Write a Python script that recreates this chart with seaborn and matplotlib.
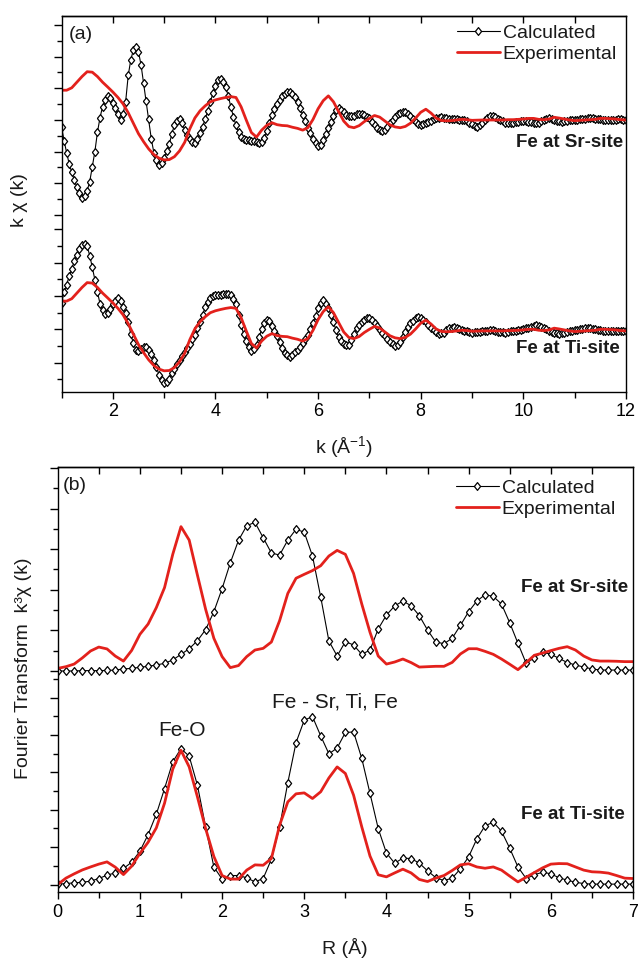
import numpy as np
import matplotlib
matplotlib.use("Agg")
import matplotlib.pyplot as plt
from matplotlib.lines import Line2D
from matplotlib.ticker import FixedLocator
import seaborn as sns

# ---------------- data : panel (a)  k*chi(k) ----------------
k_calc = np.round(np.arange(1.0, 12.0001, 0.05), 2)
k_exp = np.round(np.arange(1.0, 12.0001, 0.1), 2)

chi_exp = [
    1.85, 1.85, 2.00, 2.35, 2.70, 3.00, 2.97, 2.70, 2.35, 2.05,
    1.74, 1.40, 1.00, 0.45, -0.20, -0.85, -1.35, -1.80, -2.15, -2.37,
    -2.48, -2.46, -2.28, -1.92, -1.39, -0.55, 0.13, 0.57, 0.88, 1.13,
    1.25, 1.33, 1.40, 1.45, 1.40, 0.82, 0.00, -0.78, -1.06, -0.63,
    -0.33, -0.17, -0.29, -0.34, -0.36, -0.45, -0.52, -0.63, -0.48, 0.03,
    0.70, 1.20, 1.50, 1.13, 0.52, -0.07, -0.41, -0.48, -0.35, -0.10,
    0.10, 0.28, 0.18, -0.06, -0.30, -0.43, -0.48, -0.40, -0.20, 0.12,
    0.48, 0.67, 0.43, 0.12, -0.03, -0.05, -0.04, 0.00, 0.04, 0.02,
    -0.02, -0.01, 0.00, 0.00, 0.00, 0.00, 0.00, 0.02, 0.02, 0.04,
    0.06, 0.10, 0.10, 0.04, 0.02, 0.06, 0.17, 0.12, 0.06, 0.00,
    -0.04, -0.02, 0.00, 0.02, 0.04, 0.10, 0.10, 0.08, 0.06, 0.02,
    0.00]

chi_calc_sr = [
    -0.41, -1.28, -2.03, -2.73, -3.25, -3.73, -4.18, -4.51, -4.84, -4.70,
    -4.39, -3.83, -2.92, -1.97, -0.77, 0.14, 0.83, 1.22, 1.47, 1.35,
    1.08, 0.75, 0.35, -0.02, 0.37, 1.14, 2.77, 3.73, 4.35, 4.51,
    4.24, 3.42, 2.28, 1.18, 0.04, -1.18, -2.03, -2.51, -2.82, -2.65,
    -2.38, -1.93, -1.51, -0.87, -0.31, -0.06, 0.08, -0.21, -0.60, -0.93,
    -1.20, -1.37, -1.41, -1.18, -0.83, -0.41, 0.06, 0.56, 1.10, 1.66,
    2.09, 2.46, 2.53, 2.34, 2.03, 1.49, 0.81, 0.21, -0.33, -0.77,
    -1.04, -1.16, -1.22, -1.24, -1.28, -1.30, -1.37, -1.45, -1.35, -1.10,
    -0.66, -0.19, 0.29, 0.68, 0.97, 1.24, 1.49, 1.61, 1.72, 1.76,
    1.61, 1.43, 1.10, 0.72, 0.33, -0.08, -0.48, -0.81, -1.16, -1.41,
    -1.60, -1.57, -1.22, -0.89, -0.52, -0.12, 0.27, 0.60, 0.77, 0.64,
    0.48, 0.33, 0.25, 0.25, 0.27, 0.35, 0.39, 0.39, 0.31, 0.21,
    0.10, -0.10, -0.31, -0.48, -0.62, -0.66, -0.64, -0.43, -0.21, 0.00,
    0.19, 0.35, 0.46, 0.52, 0.52, 0.37, 0.25, 0.06, -0.10, -0.23,
    -0.31, -0.27, -0.21, -0.12, -0.04, 0.04, 0.10, 0.14, 0.17, 0.12,
    0.10, 0.06, 0.06, 0.08, 0.08, 0.02, 0.00, 0.00, -0.06, -0.17,
    -0.27, -0.37, -0.46, -0.33, -0.19, -0.02, 0.12, 0.23, 0.25, 0.17,
    0.08, 0.00, -0.08, -0.17, -0.21, -0.21, -0.19, -0.14, -0.10, -0.06,
    -0.04, -0.06, -0.10, -0.14, -0.19, -0.21, -0.19, -0.08, 0.00, 0.06,
    0.10, 0.06, 0.00, -0.04, -0.08, -0.10, -0.08, -0.04, -0.02, 0.00,
    0.00, 0.02, 0.04, 0.06, 0.08, 0.10, 0.10, 0.10, 0.08, 0.06,
    0.04, 0.02, 0.00, -0.02, -0.02, 0.00, 0.02, 0.04, 0.04, 0.02,
    0.00]

chi_calc_ti = [
    1.72, 2.40, 2.88, 3.40, 3.87, 4.33, 4.72, 5.09, 5.36, 5.38,
    5.26, 4.68, 3.95, 3.17, 2.42, 1.70, 1.30, 1.04, 1.14, 1.37,
    1.68, 1.86, 2.03, 1.84, 1.51, 1.14, 0.54, -0.19, -0.77, -1.16,
    -1.22, -1.10, -0.99, -0.97, -1.16, -1.45, -1.80, -2.22, -2.75, -3.04,
    -3.25, -3.19, -2.96, -2.63, -2.36, -2.05, -1.78, -1.53, -1.30, -1.06,
    -0.79, -0.50, -0.23, 0.17, 0.58, 1.01, 1.47, 1.80, 2.05, 2.19,
    2.26, 2.26, 2.24, 2.30, 2.32, 2.32, 2.22, 2.01, 1.66, 0.99,
    0.37, -0.21, -0.64, -0.97, -1.22, -1.14, -0.85, -0.39, 0.10, 0.48,
    0.70, 0.60, 0.33, 0.00, -0.31, -0.72, -1.08, -1.35, -1.51, -1.59,
    -1.47, -1.33, -1.18, -0.97, -0.77, -0.52, -0.27, 0.10, 0.50, 0.91,
    1.43, 1.76, 1.90, 1.70, 1.41, 1.01, 0.54, 0.04, -0.39, -0.62,
    -0.79, -0.87, -0.85, -0.58, -0.19, 0.17, 0.37, 0.58, 0.70, 0.81,
    0.81, 0.70, 0.52, 0.29, 0.08, -0.14, -0.33, -0.50, -0.66, -0.83,
    -0.91, -0.89, -0.68, -0.37, -0.06, 0.25, 0.50, 0.64, 0.79, 0.87,
    0.83, 0.68, 0.54, 0.35, 0.21, 0.06, -0.06, -0.17, -0.14, -0.10,
    0.04, 0.17, 0.21, 0.25, 0.19, 0.10, 0.06, 0.02, -0.02, -0.06,
    -0.10, -0.08, -0.06, -0.04, -0.02, 0.00, 0.02, 0.04, 0.04, 0.00,
    -0.04, -0.06, -0.08, -0.10, -0.06, -0.02, 0.00, 0.02, 0.04, 0.08,
    0.12, 0.17, 0.21, 0.25, 0.31, 0.37, 0.31, 0.25, 0.17, 0.10,
    0.02, -0.04, -0.10, -0.14, -0.17, -0.12, -0.10, -0.06, -0.02, 0.00,
    0.04, 0.08, 0.10, 0.14, 0.17, 0.17, 0.17, 0.14, 0.12, 0.08,
    0.04, 0.02, 0.00, 0.00, 0.00, -0.02, -0.02, 0.00, 0.00, 0.00,
    0.00]

offset_a_sr = 16.1   # vertical shift of the Sr-site spectra
offset_a_ti = 3.0    # vertical shift of the Ti-site spectra

# ---------------- data : panel (b)  |FT| ----------------
r_grid = np.round(np.arange(0.0, 7.0001, 0.1), 2)

ft_calc_sr = [
    0.00, 0.00, 0.00, 0.02, 0.02, 0.02, 0.03, 0.05, 0.11, 0.14,
    0.20, 0.25, 0.32, 0.41, 0.59, 0.89, 1.19, 1.62, 2.21, 3.17,
    4.40, 5.78, 6.99, 7.77, 7.95, 7.13, 6.31, 6.20, 7.00, 7.58,
    7.42, 6.15, 3.96, 1.60, 0.80, 1.57, 1.39, 0.89, 1.12, 2.25,
    2.99, 3.48, 3.74, 3.49, 2.96, 2.19, 1.55, 1.46, 1.75, 2.44,
    3.17, 3.74, 4.08, 3.99, 3.58, 2.58, 1.48, 0.41, 0.71, 1.02,
    0.89, 0.68, 0.45, 0.32, 0.21, 0.11, 0.05, 0.05, 0.05, 0.05,
    0.05]

ft_exp_sr = [
    0.14, 0.23, 0.37, 0.70, 1.07, 1.28, 1.18, 0.80, 0.53, 1.10,
    1.96, 2.51, 3.39, 4.46, 6.24, 7.72, 7.00, 5.13, 3.30, 1.75,
    0.77, 0.18, 0.29, 0.77, 1.12, 1.21, 1.55, 2.69, 4.15, 4.96,
    5.17, 5.37, 5.63, 6.15, 6.45, 6.24, 5.22, 3.58, 2.07, 0.80,
    0.37, 0.48, 0.64, 0.45, 0.21, 0.23, 0.25, 0.25, 0.46, 0.91,
    1.19, 1.19, 1.05, 0.89, 0.64, 0.36, 0.07, 0.45, 0.84, 0.96,
    1.09, 1.21, 1.30, 1.12, 0.80, 0.59, 0.53, 0.53, 0.52, 0.50,
    0.50]

ft_calc_ti = [
    0.02, 0.05, 0.09, 0.12, 0.18, 0.32, 0.50, 0.62, 0.86, 1.19,
    1.78, 2.67, 3.76, 5.13, 6.56, 7.27, 6.86, 5.31, 3.08, 0.94,
    0.29, 0.48, 0.48, 0.36, 0.14, 0.32, 1.35, 3.08, 5.45, 7.59,
    8.79, 8.98, 7.95, 6.99, 7.30, 8.13, 8.16, 6.74, 4.87, 2.99,
    1.68, 1.14, 1.41, 1.39, 1.14, 0.73, 0.37, 0.21, 0.34, 0.84,
    1.48, 2.44, 3.14, 3.33, 2.85, 1.94, 0.94, 0.32, 0.52, 0.66,
    0.57, 0.36, 0.23, 0.12, 0.05, 0.02, 0.02, 0.02, 0.02, 0.02,
    0.02]

ft_exp_ti = [
    0.00, 0.34, 0.57, 0.78, 0.94, 1.09, 1.21, 0.93, 0.53, 0.98,
    1.66, 2.26, 3.03, 4.35, 6.17, 7.18, 6.29, 4.69, 2.99, 1.50,
    0.48, 0.29, 0.29, 0.77, 1.05, 1.03, 1.39, 3.17, 4.42, 4.85,
    4.90, 4.60, 4.96, 5.70, 6.29, 5.94, 4.78, 3.08, 1.52, 0.52,
    0.41, 0.62, 0.82, 0.62, 0.27, 0.16, 0.34, 0.48, 0.75, 1.05,
    1.11, 0.94, 0.87, 0.94, 0.77, 0.45, 0.14, 0.39, 0.64, 0.89,
    1.09, 1.12, 1.11, 0.94, 0.77, 0.68, 0.66, 0.61, 0.48, 0.34,
    0.32]

offset_b_sr = 11.42
offset_b_ti = 0.0

assert len(chi_exp) == len(k_exp)
assert len(chi_calc_sr) == len(k_calc) == len(chi_calc_ti)
assert len(ft_calc_sr) == len(r_grid) == len(ft_exp_sr) == len(ft_calc_ti) == len(ft_exp_ti)

# ---------------- style ----------------
sns.set_style("ticks")
plt.rcParams["font.family"] = ["Liberation Sans", "DejaVu Sans"]
plt.rcParams["mathtext.fontset"] = "custom"
plt.rcParams["mathtext.rm"] = "Liberation Sans"
plt.rcParams["mathtext.it"] = "Liberation Sans:italic"
plt.rcParams["mathtext.bf"] = "Liberation Sans:bold"
plt.rcParams["axes.edgecolor"] = "black"
plt.rcParams["axes.linewidth"] = 1.0
plt.rcParams["xtick.color"] = "black"
plt.rcParams["ytick.color"] = "black"
plt.rcParams["text.color"] = "#1a1a1a"

RED = "#e3211c"
DIAMOND = [(-0.8, 0), (0, 1), (0.8, 0), (0, -1), (-0.8, 0)]
calc_style = dict(color="black", linewidth=0.8, marker=DIAMOND, markersize=5.6,
                  markerfacecolor="white", markeredgecolor="black",
                  markeredgewidth=0.9)
exp_style = dict(color=RED, linewidth=2.0)

W, H = 640, 961
fig = plt.figure(figsize=(W / 100, H / 100), dpi=100)


def px_axes(l, t, r, b):
    return fig.add_axes([l / W, 1 - b / H, (r - l) / W, (b - t) / H])


ax_a = px_axes(61.5, 16, 626, 392)
ax_b = px_axes(57.7, 467, 633, 891.5)

# ---------------- panel (a) ----------------
for chi, off in [(chi_calc_sr, offset_a_sr), (chi_calc_ti, offset_a_ti)]:
    sns.lineplot(x=k_calc, y=np.asarray(chi) + off, ax=ax_a, errorbar=None, **calc_style)
for off in [offset_a_sr, offset_a_ti]:
    sns.lineplot(x=k_exp, y=np.asarray(chi_exp) + off, ax=ax_a, errorbar=None, **exp_style)

ax_a.set_xlim(1, 12)
ax_a.set_ylim(-0.795, 22.56)
ax_a.xaxis.set_major_locator(FixedLocator([2, 4, 6, 8, 10, 12]))
ax_a.xaxis.set_minor_locator(FixedLocator([1, 3, 5, 7, 9, 11]))
ya_major = [22.0 - 0.983 * i for i in range(0, 13, 2)] + [1.035 * j for j in range(1, 10, 2)]
ya_minor = [22.0 - 0.983 * i for i in range(1, 13, 2)] + [1.035 * j for j in range(0, 10, 2)]
ax_a.yaxis.set_major_locator(FixedLocator(ya_major))
ax_a.yaxis.set_minor_locator(FixedLocator(ya_minor))

# ---------------- panel (b) ----------------
for ft, off in [(ft_calc_sr, offset_b_sr), (ft_calc_ti, offset_b_ti)]:
    sns.lineplot(x=r_grid, y=np.asarray(ft) + off, ax=ax_b, errorbar=None, **calc_style)
for ft, off in [(ft_exp_sr, offset_b_sr), (ft_exp_ti, offset_b_ti)]:
    sns.lineplot(x=r_grid, y=np.asarray(ft) + off, ax=ax_b, errorbar=None, **exp_style)

ax_b.set_xlim(0, 7)
ax_b.set_ylim(-0.374, 22.33)
ax_b.xaxis.set_major_locator(FixedLocator(range(0, 8)))
ax_b.xaxis.set_minor_locator(FixedLocator([0.5 + i for i in range(7)]))
yb_major = [float(i) for i in range(0, 12, 2)] + [11.42 + 1.0856 * m for m in range(0, 11, 2)]
yb_minor = [float(i) for i in range(1, 12, 2)] + [11.42 + 1.0856 * m for m in range(1, 11, 2)]
ax_b.yaxis.set_major_locator(FixedLocator(yb_major))
ax_b.yaxis.set_minor_locator(FixedLocator(yb_minor))

# ---------------- common axis styling ----------------
for ax, top_ticks, pad in [(ax_a, list(range(2, 12)), 3.0),
                           (ax_b, [0.5 * i for i in range(1, 14)], 4.0)]:
    ax.set_xlabel("")
    ax.set_ylabel("")
    ax.tick_params(axis="both", which="both", direction="out", top=False, right=False,
                   labelleft=False, width=1.0, labelsize=13, pad=pad, colors="black")
    ax.tick_params(axis="x", which="major", length=5)
    ax.tick_params(axis="x", which="minor", length=4.5)
    ax.tick_params(axis="y", which="major", length=5.5)
    ax.tick_params(axis="y", which="minor", length=3.5)
    for s in ax.spines.values():
        s.set_linewidth(1.0)
        s.set_color("black")
    sec = ax.secondary_xaxis("top")
    sec.xaxis.set_major_locator(FixedLocator(top_ticks))
    sec.tick_params(direction="in", length=5, width=1.0, labeltop=False, colors="black")
    sec.spines["top"].set_linewidth(1.0)

# ---------------- legends ----------------
h_calc = Line2D([], [], **calc_style)
h_exp = Line2D([], [], **exp_style)
for ax, bx, by in [(ax_a, 0.7006, 0.9787), (ax_b, 0.6923, 0.9717)]:
    ax.legend([h_calc, h_exp], ["Calculated", "Experimental"], loc="upper left",
              bbox_to_anchor=(bx, by), frameon=False, fontsize=14, handlelength=2.2,
              handletextpad=0.15, labelspacing=0.18, borderpad=0, borderaxespad=0,
              numpoints=1)

# ---------------- annotations ----------------
bold = dict(fontsize=13.5, fontweight="bold", ha="right", va="center")
ta = ax_a.get_yaxis_transform()
ax_a.text(0.012, 21.4, "(a)", transform=ta, fontsize=14, ha="left", va="center")
ax_a.text(0.995, 14.7, "Fe at Sr-site", transform=ta, **bold)
ax_a.text(0.989, 1.89, "Fe at Ti-site", transform=ta, **bold)

tb = ax_b.get_yaxis_transform()
ax_b.text(0.008, 21.36, "(b)", transform=tb, fontsize=14, ha="left", va="center")
ax_b.text(0.991, 15.86, "Fe at Sr-site", transform=tb, **bold)
ax_b.text(0.986, 3.72, "Fe at Ti-site", transform=tb, **bold)
ax_b.text(1.51, 8.26, "Fe-O", fontsize=15, ha="center", va="center")
ax_b.text(3.37, 9.76, "Fe - Sr, Ti, Fe", fontsize=15, ha="center", va="center")

# axis titles placed in figure pixels
fig.text(344 / W, 1 - 447 / H, "k (Å$^{-1}$)", fontsize=14, ha="center", va="center")
fig.text(345 / W, 1 - 948 / H, "R (Å)", fontsize=14, ha="center", va="center")
fig.text(19 / W, 1 - 200 / H, "k χ (k)", fontsize=14, rotation=90, ha="center", va="center")
fig.text(24 / W, 1 - 668 / H, "Fourier Transform  k³χ (k)", fontsize=14, rotation=90,
         ha="center", va="center")

fig.savefig("out.png", dpi=100)
